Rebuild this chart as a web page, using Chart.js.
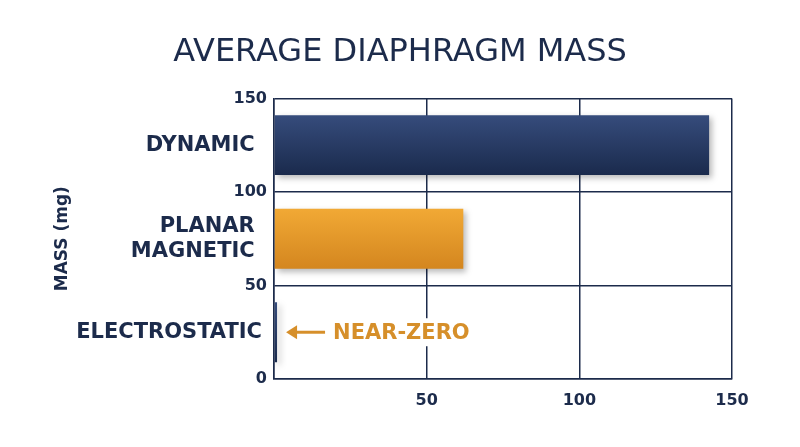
<!DOCTYPE html>
<html><head><meta charset="utf-8">
<script src="https://cdn.jsdelivr.net/npm/chart.js@4"></script>
<style>html,body{margin:0;padding:0;background:#fff}#wrap{width:800px;height:447px}</style>
</head><body><div id="wrap"><canvas id="c"></canvas></div>
<script>
const categories = ['DYNAMIC ', ['PLANAR ', 'MAGNETIC '], 'ELECTROSTATIC'];
const massValues = [142.5, 62, 1];
const xTickValues = [0, 50, 100, 150];
const yTickValues = [0, 50, 100, 150];
const titleText = 'AVERAGE DIAPHRAGM MASS';
const axisTitle = 'MASS (mg)';
const annotationText = 'NEAR-ZERO';
const annotationIndex = 2;

const NAVY = '#1c2b4b';
const ORANGE = '#d68f2a';
const barTop = ['#364c7c', '#f1a935', '#364c7c'];
const barBottom = ['#1a2a4c', '#d4861f', '#1a2a4c'];
const FONT = 'DejaVu Sans';

const shadowPlugin = {
  id: 'shadow',
  beforeDatasetsDraw(chart) {
    const c = chart.ctx; c.save();
    c.shadowColor = 'rgba(0,0,0,0.28)'; c.shadowBlur = 6; c.shadowOffsetX = 3; c.shadowOffsetY = 3;
  },
  afterDatasetsDraw(chart) { chart.ctx.restore(); }
};

const annotPlugin = {
  id: 'annot',
  afterDatasetsDraw(chart) {
    const c = chart.ctx, xs = chart.scales.x, ys = chart.scales.y;
    const xEnd = xs.getPixelForValue(massValues[annotationIndex]);
    const y = ys.getPixelForValue(annotationIndex);
    const tip = xEnd + 9;
    c.save();
    c.strokeStyle = ORANGE; c.fillStyle = ORANGE; c.lineWidth = 3;
    c.beginPath(); c.moveTo(tip + 8, y); c.lineTo(tip + 39, y); c.stroke();
    c.beginPath(); c.moveTo(tip, y); c.lineTo(tip + 11, y - 7); c.lineTo(tip + 11, y + 7); c.closePath(); c.fill();
    c.font = 'bold 21px "' + FONT + '"';
    const tx = tip + 47;
    const w = c.measureText(annotationText).width;
    c.fillStyle = '#fff'; c.fillRect(tx - 3, y - 14, w + 6, 28);
    c.fillStyle = ORANGE; c.textBaseline = 'middle'; c.textAlign = 'left';
    c.fillText(annotationText, tx, y + 1);
    c.restore();
  }
};

new Chart(document.getElementById('c'), {
  type: 'bar',
  data: {
    labels: categories,
    datasets: [{
      data: massValues,
      backgroundColor: (ctx) => {
        const chart = ctx.chart, i = ctx.dataIndex;
        if (!chart.chartArea || !chart.scales.y) return barTop[i];
        const y = chart.scales.y.getPixelForValue(i);
        const h = 30;
        const g = chart.ctx.createLinearGradient(0, y - h, 0, y + h);
        g.addColorStop(0, barTop[i]); g.addColorStop(1, barBottom[i]);
        return g;
      },
      borderWidth: 0,
      categoryPercentage: 1,
      barPercentage: 0.64
    }]
  },
  options: {
    indexAxis: 'y',
    responsive: true,
    maintainAspectRatio: false,
    animation: false,
    layout: { padding: 0 },
    plugins: {
      legend: { display: false },
      tooltip: { enabled: false },
      title: {
        display: true, text: titleText, color: NAVY,
        font: { family: FONT, size: 32, weight: 'normal' },
        padding: { top: 33, bottom: 27 }
      }
    },
    scales: {
      x: {
        type: 'linear', position: 'bottom', min: 0, max: 150,
        afterBuildTicks: s => { s.ticks = xTickValues.map(v => ({ value: v })); },
        ticks: { callback: v => (v === 0 ? '' : v), color: NAVY, padding: 12,
                 font: { family: FONT, size: 16, weight: 'bold' } },
        grid: { color: NAVY, lineWidth: 1.5, drawTicks: false },
        border: { color: NAVY, width: 1.5 },
        afterFit: s => { s.height = 68; }
      },
      y: {
        type: 'category', position: 'left', weight: 10,
        grid: { display: false, drawTicks: false },
        border: { display: false },
        ticks: { color: NAVY, padding: 12, font: { family: FONT, size: 21, weight: 'bold' } },
        title: { display: true, text: axisTitle, color: NAVY,
                 font: { family: FONT, size: 17, weight: 'bold' }, padding: { top: 52, bottom: 0 } },
        afterFit: s => { s.width = 274; }
      },
      yNum: {
        type: 'linear', position: 'left', weight: 0, min: 0, max: 150, offset: false,
        afterBuildTicks: s => { s.ticks = yTickValues.map(v => ({ value: v })); },
        ticks: { color: NAVY, padding: 7, font: { family: FONT, size: 16, weight: 'bold' } },
        grid: { color: NAVY, lineWidth: 1.5, drawTicks: false, offset: false },
        border: { color: NAVY, width: 1.5 },
        afterFit: s => { s.width = 0; s._computeLabelArea = () => null; }
      },
      spacer: {
        type: 'linear', position: 'right', offset: false,
        grid: { display: false, drawTicks: false },
        border: { display: false },
        ticks: { display: false },
        afterFit: s => { s.width = 68; }
      }
    }
  },
  plugins: [shadowPlugin, annotPlugin]
});
</script>
</body></html>
